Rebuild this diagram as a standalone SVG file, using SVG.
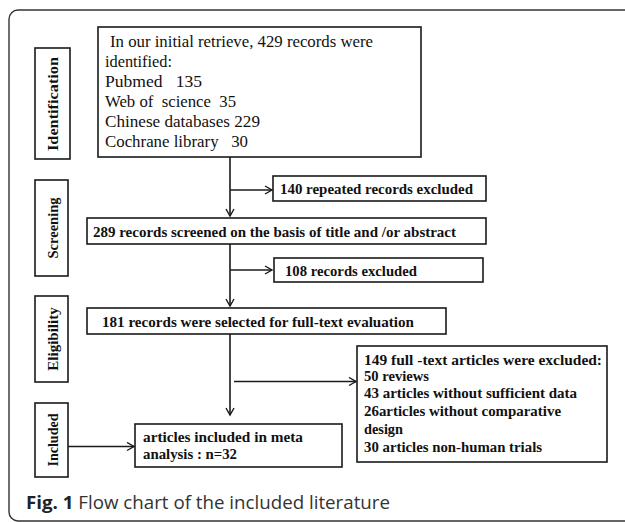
<svg xmlns="http://www.w3.org/2000/svg" width="625" height="522" viewBox="0 0 625 522">
<defs>
<marker id="ah" markerWidth="10" markerHeight="10" refX="8" refY="5" orient="auto" markerUnits="userSpaceOnUse">
<path d="M1,1 L8,5 L1,9" fill="none" stroke="#1a1a1a" stroke-width="1.4"/>
</marker>
<style>
.box{fill:#fff;stroke:#1a1a1a;stroke-width:1.6}
.ln{fill:none;stroke:#1a1a1a;stroke-width:1.6}
.ser{font-family:"Liberation Serif","Times New Roman",serif;font-size:16px;fill:#111}
.b{font-family:"Liberation Serif","Times New Roman",serif;font-size:15px;font-weight:bold;fill:#111}
.lab{font-family:"Liberation Serif","Times New Roman",serif;font-size:15px;font-weight:bold;fill:#111;text-anchor:middle}
.cap{font-family:"Open Sans","Noto Sans",sans-serif;font-size:18px;fill:#333}
</style>
</defs>
<rect width="625" height="522" fill="#fff"/>
<rect x="9" y="10" width="640" height="511" rx="9" fill="none" stroke="#333" stroke-width="1.4"/>

<g id="lab-identification"><rect class="box" x="35" y="48" width="35" height="111"/><text class="lab" transform="translate(58,104) rotate(-90)" textLength="94" lengthAdjust="spacingAndGlyphs">Identification</text></g>
<g id="lab-screening"><rect class="box" x="35" y="180" width="33" height="96"/><text class="lab" transform="translate(58,228) rotate(-90)" textLength="61" lengthAdjust="spacingAndGlyphs">Screening</text></g>
<g id="lab-eligibility"><rect class="box" x="35" y="296" width="33" height="86"/><text class="lab" transform="translate(58,339) rotate(-90)">Eligibility</text></g>
<g id="lab-included"><rect class="box" x="35" y="403" width="33" height="74"/><text class="lab" transform="translate(58,440) rotate(-90)" textLength="53" lengthAdjust="spacingAndGlyphs">Included</text></g>

<g id="n-initial"><rect class="box" x="98" y="27" width="323" height="130"/>
<text class="ser" x="110" y="47" textLength="263" lengthAdjust="spacingAndGlyphs">In our initial retrieve, 429 records were</text>
<text class="ser" x="105" y="67" textLength="67" lengthAdjust="spacingAndGlyphs">identified:</text>
<text class="ser" x="105" y="87" textLength="97" lengthAdjust="spacingAndGlyphs" xml:space="preserve">Pubmed   135</text>
<text class="ser" x="105" y="107" textLength="131" lengthAdjust="spacingAndGlyphs" xml:space="preserve">Web of  science  35</text>
<text class="ser" x="105" y="127" textLength="155" lengthAdjust="spacingAndGlyphs">Chinese databases  229</text>
<text class="ser" x="105" y="147" textLength="143" lengthAdjust="spacingAndGlyphs" xml:space="preserve">Cochrane library   30</text>
</g>
<g id="n-repeated"><rect class="box" x="273" y="176" width="213" height="25"/><text class="b" x="280" y="194" textLength="193" lengthAdjust="spacingAndGlyphs">140 repeated records excluded</text></g>
<g id="n-screened"><rect class="box" x="87" y="218" width="399" height="26"/><text class="b" x="93" y="237" textLength="363" lengthAdjust="spacingAndGlyphs">289 records screened on the basis of title and /or abstract</text></g>
<g id="n-excl108"><rect class="box" x="274" y="258" width="209" height="24"/><text class="b" x="285" y="276" textLength="132" lengthAdjust="spacingAndGlyphs">108 records excluded</text></g>
<g id="n-fulltext"><rect class="box" x="87" y="308" width="359" height="26"/><text class="b" x="102" y="327" textLength="312" lengthAdjust="spacingAndGlyphs">181 records  were selected for full-text evaluation</text></g>
<g id="n-excl149"><rect class="box" x="357" y="346" width="250" height="116"/>
<text class="b" x="364" y="365" textLength="238" lengthAdjust="spacingAndGlyphs">149  full -text  articles were excluded:</text>
<text class="b" x="364" y="381" textLength="65" lengthAdjust="spacingAndGlyphs">50 reviews</text>
<text class="b" x="364" y="398" textLength="213" lengthAdjust="spacingAndGlyphs">43 articles  without  sufficient  data</text>
<text class="b" x="364" y="416" textLength="197" lengthAdjust="spacingAndGlyphs">26articles without  comparative</text>
<text class="b" x="364" y="434" textLength="39" lengthAdjust="spacingAndGlyphs">design</text>
<text class="b" x="364" y="452" textLength="178" lengthAdjust="spacingAndGlyphs">30 articles  non-human  trials</text>
</g>
<g id="n-included"><rect class="box" x="135" y="424" width="207" height="43"/>
<text class="b" x="143" y="442" textLength="160" lengthAdjust="spacingAndGlyphs">articles included  in  meta</text>
<text class="b" x="143" y="459" textLength="94" lengthAdjust="spacingAndGlyphs">analysis  : n=32</text>
</g>

<g id="connectors">
<path class="ln" d="M230,157 V216" marker-end="url(#ah)"/>
<path class="ln" d="M230,190 H272" marker-end="url(#ah)"/>
<path class="ln" d="M230,244 V306" marker-end="url(#ah)"/>
<path class="ln" d="M230,270 H272" marker-end="url(#ah)"/>
<path class="ln" d="M230,334 V415" marker-end="url(#ah)"/>
<path class="ln" d="M234,381.5 H356" marker-end="url(#ah)"/>
<path class="ln" d="M68,446.5 H134" marker-end="url(#ah)"/>
</g>

<text class="cap" x="26" y="509" textLength="364" lengthAdjust="spacingAndGlyphs"><tspan font-weight="bold" fill="#222">Fig. 1</tspan> Flow chart of the included literature</text>
</svg>
